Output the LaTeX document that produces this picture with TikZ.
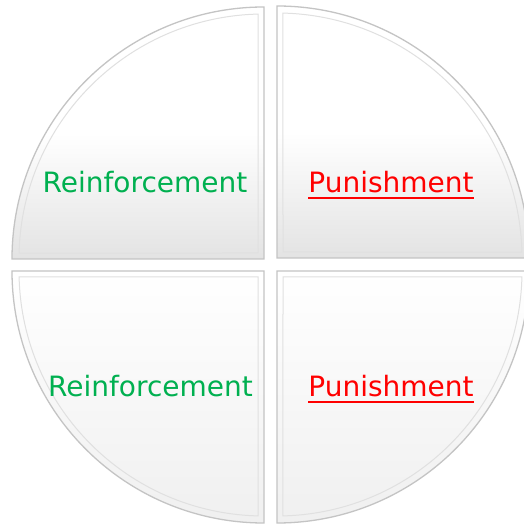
\documentclass[tikz,border=0pt]{standalone}
\usepackage{fontspec}
\setmainfont{DejaVu Sans}
\definecolor{rgreen}{HTML}{00B050}
\definecolor{rred}{HTML}{FF0000}
\definecolor{rim}{HTML}{C4C4C4}
\begin{document}
\begin{tikzpicture}[x=1pt,y=1pt,
  quad/.style={draw=rim, line width=1.3pt},
  topquad/.style={quad, top color=white, bottom color=black!11, middle color=white, shading angle=0},
  botquad/.style={quad, top color=white, bottom color=black!6},
  bevelshade/.style={draw=black!12, line width=1pt},
  lbl/.style={inner sep=0pt, anchor=base, font=\fontsize{28}{30}\selectfont},
  goodlbl/.style={lbl, text=rgreen},
  badlbl/.style={lbl, text=rred},
  uline/.style={draw=rred, line width=2pt}]
\useasboundingbox (0,0) rectangle (524,525);
\clip (0,0) rectangle (524,525);
\fill[white] (0,0) rectangle (524,525);
% top-left
\path[topquad] (264,266) -- (12,266) arc[start angle=180,end angle=90,radius=252] -- cycle;
\draw[bevelshade] (258,272) -- ([shift={(178.6:245)}]264,266) arc[start angle=178.6,end angle=91.4,radius=245] -- cycle;
% top-right
\path[topquad] (277,267) -- (277,519) arc[start angle=90,end angle=0,radius=252] -- cycle;
\draw[bevelshade] (283,273) -- ([shift={(88.6:245)}]277,267) arc[start angle=88.6,end angle=1.4,radius=245] -- cycle;
% bottom-left
\path[botquad] (264,254) -- (12,254) arc[start angle=180,end angle=270,radius=252] -- cycle;
\draw[bevelshade] (258,248) -- ([shift={(181.4:245)}]264,254) arc[start angle=181.4,end angle=268.6,radius=245] -- cycle;
% bottom-right
\path[botquad] (277,254) -- (277,2) arc[start angle=270,end angle=360,radius=252] -- cycle;
\draw[bevelshade] (283,248) -- ([shift={(271.4:245)}]277,254) arc[start angle=271.4,end angle=358.6,radius=245] -- cycle;
% labels
\node[goodlbl] (r1) at (145,332) {Reinforcement};
\node[badlbl] (p1) at (391,332) {Punishment};
\node[goodlbl] (r2) at (150.5,128) {Reinforcement};
\node[badlbl] (p2) at (391,128) {Punishment};
\draw[uline] ([yshift=-5pt]p1.base west) -- ([yshift=-5pt]p1.base east);
\draw[uline] ([yshift=-5pt]p2.base west) -- ([yshift=-5pt]p2.base east);
\end{tikzpicture}
\end{document}
